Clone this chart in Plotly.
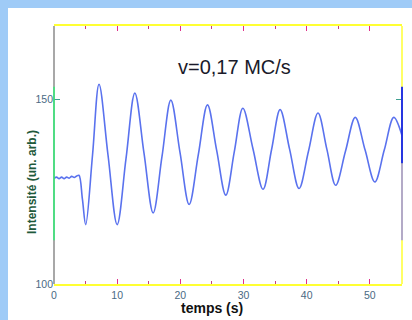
import plotly.graph_objects as go

# ---- data ----
temps = [0, 0.4, 0.8, 1.2, 1.6, 2.0, 2.4, 2.8, 3.2, 3.6, 3.95, 4.5, 5.02,
         6.1, 7.13, 8.55, 10.0, 11.4, 12.8, 14.25, 15.7, 17.1, 18.5, 19.95,
         21.4, 22.85, 24.3, 25.75, 27.2, 28.55, 29.9, 31.5, 33.1, 34.45, 35.8,
         37.3, 38.8, 40.3, 41.8, 43.2, 44.6, 46.15, 47.7, 49.25, 50.8, 52.3,
         53.8, 55.1]
intensite = [128.6, 129.0, 128.6, 129.0, 128.6, 129.0, 128.7, 129.2, 128.9, 129.3, 129.5, 123.0, 116.1,
             135.0, 154.2, 135.0, 116.1, 134.0, 151.8, 135.5, 119.3, 134.6, 149.9, 135.7,
             121.6, 135.1, 148.6, 136.3, 124.1, 135.9, 147.7, 136.7, 125.7, 136.5, 147.3,
             136.6, 125.9, 136.1, 146.4, 136.6, 126.8, 136.0, 145.2, 136.4, 127.7, 136.4,
             145.2, 140.3]
x_ticks = [0, 10, 20, 30, 40, 50]
y_ticks = [100, 150]
x_range = [0, 55.1]
y_range = [100, 170]

W, H = 412, 320
L, R, T, B = 54, 10, 26, 36
pw, ph = W - L - R, H - T - B

fig = go.Figure()
fig.add_trace(go.Scatter(x=temps, y=intensite, mode="lines",
                         line=dict(color="#5a72ee", width=1.6, shape="spline", smoothing=1.0),
                         hoverinfo="skip", showlegend=False))

tickfont = dict(family="Liberation Sans, Arial", size=10.5, color="#4a6a84")
fig.update_layout(
    width=W, height=H, margin=dict(l=L, r=R, t=T, b=B),
    paper_bgcolor="white", plot_bgcolor="white",
    xaxis=dict(range=x_range, tickvals=x_ticks, ticks="inside", ticklen=5, tickwidth=1,
               tickcolor="#e0308a", showgrid=False, zeroline=False, showline=True,
               linecolor="#ffff33", linewidth=2, mirror="allticks", tickfont=tickfont,
               minor=dict(ticks="inside", ticklen=3, dtick=5, tick0=0, tickcolor="#c04080"),
               fixedrange=True),
    yaxis=dict(range=y_range, tickvals=y_ticks, ticks="inside", ticklen=6, tickwidth=1,
               tickcolor="#40a090", showgrid=False, zeroline=False, showline=False,
               mirror="allticks", tickfont=tickfont, fixedrange=True),
    annotations=[
        dict(text="v=0,17 MC/s", xref="paper", yref="paper",
             x=(235 - L) / pw, y=1 - (67 - T) / ph, showarrow=False,
             xanchor="center", yanchor="middle",
             font=dict(family="Liberation Sans, Arial", size=20, color="#1a1a2a")),
        dict(text="<b>temps (s)</b>", xref="paper", yref="paper",
             x=(212 - L) / pw, y=-(308 - T - ph) / ph, showarrow=False,
             xanchor="center", yanchor="middle",
             font=dict(family="Liberation Sans, Arial", size=14, color="#111111")),
        dict(text="<b>Intensité (un. arb.)</b>", xref="paper", yref="paper",
             x=(32 - L) / pw, y=1 - (182 - T) / ph, showarrow=False, textangle=-90,
             xanchor="center", yanchor="middle",
             font=dict(family="Liberation Sans, Arial", size=12, color="#1f5a3c")),
    ],
)

shapes = []
# light-blue frame strips
shapes.append(dict(type="rect", xref="paper", yref="paper", x0=-L / pw, x1=(8 - L) / pw,
                   y0=-B / ph, y1=1 + T / ph, fillcolor="#9fcbf7", line=dict(width=0), layer="below"))
shapes.append(dict(type="rect", xref="paper", yref="paper", x0=-L / pw, x1=1 + R / pw,
                   y0=1 + (T - 8) / ph, y1=1 + T / ph, fillcolor="#9fcbf7", line=dict(width=0), layer="below"))
# left axis (gray with green segment)
shapes.append(dict(type="line", xref="paper", yref="y", x0=0, x1=0, y0=100, y1=170,
                   line=dict(color="#6e6e6e", width=1.2)))
shapes.append(dict(type="line", xref="paper", yref="y", x0=0, x1=0, y0=111.9, y1=153.5,
                   line=dict(color="#33ee77", width=1.5)))
# right axis (yellow with blue segment)
shapes.append(dict(type="line", xref="paper", yref="y", x0=1, x1=1, y0=100, y1=170,
                   line=dict(color="#ffff33", width=1.5)))
shapes.append(dict(type="line", xref="paper", yref="y", x0=1, x1=1, y0=132.7, y1=153.5,
                   line=dict(color="#1020ee", width=1.8)))
shapes.append(dict(type="line", xref="paper", yref="y", x0=1, x1=1, y0=111.9, y1=132.7,
                   line=dict(color="#9a8ee8", width=1.5)))
fig.update_layout(shapes=shapes)

fig.write_html("out.html")
